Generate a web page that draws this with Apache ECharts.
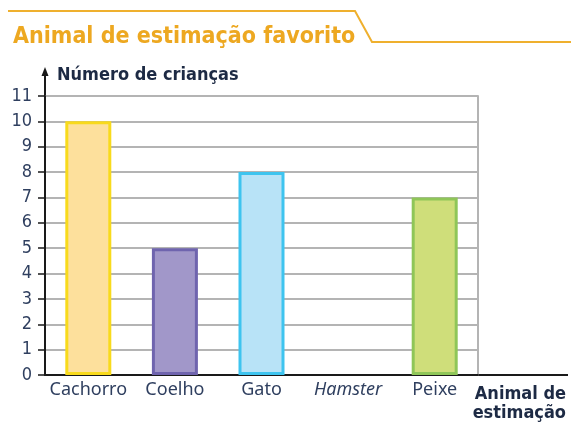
<!DOCTYPE html>
<html>
<head>
<meta charset="utf-8">
<script src="https://cdn.jsdelivr.net/npm/echarts@6/dist/echarts.min.js"></script>
<style>
html,body{margin:0;padding:0;background:#fff;}
#c{width:571px;height:443px;}
</style>
</head>
<body>
<div id="c"></div>
<script>
var titleText = 'Animal de estimação favorito';
var yAxisName = 'Número de crianças';
var xAxisName = 'Animal de\nestimação';
var categories = ['Cachorro', 'Coelho', 'Gato', 'Hamster', 'Peixe'];
var italicCategories = ['Hamster'];
var values = [10, 5, 8, 0, 7];
var fillColors = ['#FDE09C', '#A197C9', '#B8E3F7', '#FFFFFF', '#CFDE7A'];
var borderColors = ['#F8DA1C', '#6F64AE', '#3EC4EF', '#FFFFFF', '#8FC658'];

var FONT = '"DejaVu Sans Condensed", "Liberation Sans Narrow", "Noto Sans", sans-serif';
var LFONT = '"Noto Sans", "DejaVu Sans", sans-serif';
var chart = echarts.init(document.getElementById('c'), null, {renderer: 'canvas'});

var grid = {left: 45, right: 93, top: 96, bottom: 68};

var option = {
  backgroundColor: '#ffffff',
  animation: false,
  title: {
    text: titleText,
    left: 8,
    top: 21,
    textStyle: {color: '#EDA821', fontSize: 23, fontWeight: 'bold', fontFamily: FONT}
  },
  grid: grid,
  xAxis: {
    type: 'category',
    data: categories,
    name: xAxisName,
    nameLocation: 'end',
    nameGap: 88,
    nameTextStyle: {
      color: '#1d2a44', fontSize: 18, fontWeight: 'bold', fontFamily: FONT,
      align: 'right', verticalAlign: 'top', lineHeight: 19, padding: [10, 0, 0, 0]
    },
    axisLine: {show: true, lineStyle: {color: '#1a1a1a', width: 2}},
    axisTick: {show: false},
    splitLine: {show: false},
    axisLabel: {
      interval: 0,
      color: '#2f3f5f', fontSize: 18, fontFamily: LFONT, margin: 6,
      formatter: function (v) {
        return italicCategories.indexOf(v) >= 0 ? '{i|' + v + '}' : v;
      },
      rich: {i: {fontStyle: 'italic', color: '#2f3f5f', fontSize: 18, fontFamily: LFONT}}
    }
  },
  yAxis: [{
    type: 'value',
    min: 0,
    max: 11,
    interval: 1,
    name: yAxisName,
    nameLocation: 'end',
    nameGap: 12,
    nameTextStyle: {
      color: '#1d2a44', fontSize: 18, fontWeight: 'bold', fontFamily: FONT,
      align: 'left', padding: [0, 0, 0, 12]
    },
    axisLine: {show: true, lineStyle: {color: '#1a1a1a', width: 2}},
    axisTick: {show: true, length: 7, lineStyle: {color: '#1a1a1a', width: 1.5}},
    axisLabel: {color: '#2f3f5f', fontSize: 18, fontFamily: FONT, margin: 13},
    splitLine: {show: true, lineStyle: {color: '#b4b4b4', width: 2}}
  }, {
    type: 'value',
    position: 'right',
    min: 0,
    max: 11,
    interval: 1,
    axisLine: {show: true, lineStyle: {color: '#b4b4b4', width: 2}},
    axisTick: {show: false},
    axisLabel: {show: false},
    splitLine: {show: false}
  }],
  series: [{
    type: 'bar',
    yAxisIndex: 0,
    barWidth: 46,
    data: values.map(function (v, i) {
      return {
        value: v,
        itemStyle: {color: fillColors[i], borderColor: borderColors[i], borderWidth: v > 0 ? 3 : 0}
      };
    }),
    z: 3
  }],
  graphic: [
    {
      type: 'polyline',
      shape: {points: [[8, 11], [355, 11], [372, 42], [571, 42]]},
      style: {stroke: '#EFB02E', lineWidth: 2, fill: null}
    },
    {
      type: 'line',
      shape: {x1: 478, y1: 375, x2: 568, y2: 375},
      style: {stroke: '#1a1a1a', lineWidth: 2}
    },
    {
      type: 'line',
      shape: {x1: 45, y1: 96, x2: 45, y2: 72},
      style: {stroke: '#1a1a1a', lineWidth: 2}
    },
    {
      type: 'polygon',
      shape: {points: [[41.5, 76], [45, 67], [48.5, 76]]},
      style: {fill: '#1a1a1a'}
    }
  ]
};
chart.setOption(option);
</script>
</body>
</html>
